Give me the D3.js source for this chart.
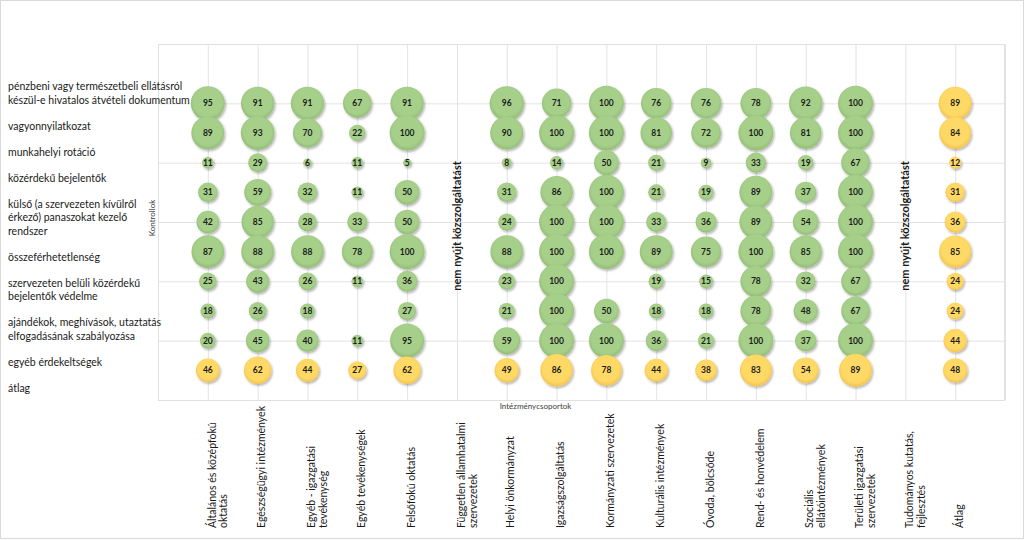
<!DOCTYPE html>
<html>
<head>
<meta charset="utf-8">
<script src="https://cdn.jsdelivr.net/npm/d3@7"></script>
<style>
  html, body { margin: 0; padding: 0; background: #ffffff; }
  svg { display: block; font-family: Lato, "Open Sans", sans-serif; }
</style>
</head>
<body>
<svg id="chart" width="1024" height="540"></svg>
<script>
// ---- data ----
const categories = [
  ["Általános és középfokú", "oktatás"],
  ["Egészségügyi intézmények"],
  ["Egyéb - igazgatási", "tevékenység"],
  ["Egyéb tevékenységek"],
  ["Felsőfokú oktatás"],
  ["Független államhatalmi", "szervezetek"],
  ["Helyi önkormányzat"],
  ["Igazságszolgáltatás"],
  ["Kormányzati szervezetek"],
  ["Kulturális intézmények"],
  ["Óvoda,  bölcsőde"],
  ["Rend- és honvédelem"],
  ["Szociális", "ellátóintézmények"],
  ["Területi igazgatási", "szervezetek"],
  ["Tudományos kutatás,", "fejlesztés"],
  ["Átlag"]
];

const controls = [
  ["pénzbeni vagy természetbeli ellátásról", "készül-e hivatalos  átvételi dokumentum"],
  ["vagyonnyilatkozat"],
  ["munkahelyi rotáció"],
  ["közérdekű bejelentők"],
  ["külső (a szervezeten kívülről", "érkező) panaszokat kezelő", "rendszer"],
  ["összeférhetetlenség"],
  ["szervezeten belüli közérdekű", "bejelentők védelme"],
  ["ajándékok, meghívások, utaztatás", "elfogadásának szabályozása"],
  ["egyéb érdekeltségek"],
  ["átlag"]
];

// values per category (column), top row to bottom row; null = no bubble
const valAltalanos   = [95, 89, 11, 31, 42, 87, 25, 18, 20, 46];
const valEgeszseg    = [91, 93, 29, 59, 85, 88, 43, 26, 45, 62];
const valEgyebIgazg  = [91, 70, 6, 32, 28, 88, 26, 18, 40, 44];
const valEgyebTev    = [67, 22, 11, 11, 33, 78, 11, null, 11, 27];
const valFelsofoku   = [91, 100, 5, 50, 50, 100, 36, 27, 95, 62];
const valFuggetlen   = [null, null, null, null, null, null, null, null, null, null];
const valHelyi       = [96, 90, 8, 31, 24, 88, 23, 21, 59, 49];
const valIgazsag     = [71, 100, 14, 86, 100, 100, 100, 100, 100, 86];
const valKormanyzati = [100, 100, 50, 100, 100, 100, null, 50, 100, 78];
const valKulturalis  = [76, 81, 21, 21, 33, 89, 19, 18, 36, 44];
const valOvoda       = [76, 72, 9, 19, 36, 75, 15, 18, 21, 38];
const valRend        = [78, 100, 33, 89, 89, 100, 78, 78, 100, 83];
const valSzocialis   = [92, 81, 19, 37, 54, 85, 32, 48, 37, 54];
const valTeruleti    = [100, 100, 67, 100, 100, 100, 67, 67, 100, 89];
const valTudomanyos  = [null, null, null, null, null, null, null, null, null, null];
const valAtlag       = [89, 84, 12, 31, 36, 85, 24, 24, 44, 48];

const columnValues = [valAltalanos, valEgeszseg, valEgyebIgazg, valEgyebTev, valFelsofoku,
  valFuggetlen, valHelyi, valIgazsag, valKormanyzati, valKulturalis, valOvoda, valRend,
  valSzocialis, valTeruleti, valTudomanyos, valAtlag];

const noServiceNote = "nem nyújt közszolgáltatást";
const noServiceColumns = [5, 14];
const xTitle = "Intézménycsoportok";
const yTitle = "Kontrollok";

// ---- layout ----
const svg = d3.select("#chart");
const W = 1024, H = 540;
const plot = { left: 158, right: 1005, top: 44, bottom: 400 };

const x = d3.scaleLinear().domain([0, categories.length + 1]).range([plot.left, plot.right]);
const y = d3.scaleLinear().domain([0, 12]).range([plot.bottom, plot.top]);
const r = d3.scaleSqrt().domain([0, 100]).range([0, 17.5]);

// outer frame
svg.append("rect").attr("x", 0.5).attr("y", 0.5).attr("width", W - 1).attr("height", H - 2)
  .attr("fill", "none").attr("stroke", "#d9d9d9");

// defs
const defs = svg.append("defs");
const shadow = defs.append("filter").attr("id", "shadow")
  .attr("x", "-30%").attr("y", "-30%").attr("width", "170%").attr("height", "170%");
shadow.append("feDropShadow").attr("dx", 1.2).attr("dy", 1.6).attr("stdDeviation", 1.2)
  .attr("flood-color", "#000").attr("flood-opacity", 0.3);

function grad(id, c0, c1) {
  const g = defs.append("radialGradient").attr("id", id)
    .attr("cx", "50%").attr("cy", "45%").attr("r", "55%");
  g.append("stop").attr("offset", "0%").attr("stop-color", c0);
  g.append("stop").attr("offset", "75%").attr("stop-color", c0);
  g.append("stop").attr("offset", "100%").attr("stop-color", c1);
}
grad("gGreen", "#a6cf8a", "#93bd76");
grad("gYellow", "#ffd966", "#f3c24c");

// gridlines via axes
const gx = svg.append("g").attr("transform", `translate(0,${plot.bottom})`)
  .call(d3.axisBottom(x).ticks(17).tickSize(-(plot.bottom - plot.top)).tickFormat(""));
const gy = svg.append("g").attr("transform", `translate(${plot.left},0)`)
  .call(d3.axisLeft(y).tickValues([0, 2, 4, 6, 8, 10, 12]).tickSize(-(plot.right - plot.left)).tickFormat(""));
[gx, gy].forEach(g => {
  g.select(".domain").remove();
  g.selectAll(".tick line").attr("stroke", "#e3e3e3").attr("stroke-width", 1);
});
svg.append("rect").attr("x", plot.left + 0.5).attr("y", plot.top + 0.5)
  .attr("width", plot.right - plot.left - 1).attr("height", plot.bottom - plot.top)
  .attr("fill", "none").attr("stroke", "#e0e0e0");

// bubble data
const points = [];
columnValues.forEach((vals, ci) => {
  vals.forEach((v, ri) => {
    if (v == null) return;
    points.push({
      ci, ri, v,
      yellow: ri === controls.length - 1 || ci === categories.length - 1
    });
  });
});

const bubbles = svg.append("g");
bubbles.selectAll("circle").data(points).join("circle")
  .attr("cx", d => x(d.ci + 1))
  .attr("cy", d => y(controls.length - d.ri))
  .attr("r", d => r(d.v))
  .attr("fill", d => d.yellow ? "url(#gYellow)" : "url(#gGreen)")
  .attr("filter", "url(#shadow)");

svg.append("g").selectAll("text").data(points).join("text")
  .attr("x", d => x(d.ci + 1))
  .attr("y", d => y(controls.length - d.ri))
  .attr("dy", "0.35em")
  .attr("text-anchor", "middle")
  .attr("font-size", 8.5)
  .attr("font-weight", 700)
  .attr("fill", "#1c1c1c")
  .text(d => d.v);

// "nem nyújt közszolgáltatást" notes
svg.append("g").selectAll("text").data(noServiceColumns).join("text")
  .attr("transform", d => `translate(${x(d + 1)},${y(6) + 4}) rotate(-90)`)
  .attr("dy", "0.35em")
  .attr("text-anchor", "middle")
  .attr("font-size", 11)
  .attr("font-weight", 700)
  .attr("fill", "#1a1a1a")
  .text(noServiceNote);

// y (control) labels - text block on the left
const lineH = 13.5, gapH = 26;
let cy = 86.7;
const yLab = svg.append("g").attr("font-size", 10.5).attr("fill", "#1a1a1a");
controls.forEach((lines, i) => {
  lines.forEach((ln, j) => {
    yLab.append("text").attr("x", 8).attr("y", cy + j * lineH).attr("dy", "0.35em").text(ln);
  });
  cy += (lines.length - 1) * lineH + gapH;
});

// category labels (rotated)
const cLab = svg.append("g").attr("font-size", 10.5).attr("fill", "#1a1a1a");
categories.forEach((lines, i) => {
  const t = cLab.append("text")
    .attr("transform", `translate(${x(i + 1) + 4},528) rotate(-90)`)
    .attr("text-anchor", "start");
  lines.forEach((ln, j) => {
    t.append("tspan").attr("x", 0).attr("y", j * 12).attr("dy", "0.35em").text(ln);
  });
});

// axis titles
svg.append("text").attr("x", (plot.left + plot.right) / 2 - 46).attr("y", 406)
  .attr("dy", "0.35em").attr("text-anchor", "middle").attr("font-size", 8)
  .attr("fill", "#404040").text(xTitle);
svg.append("text").attr("transform", `translate(152,218) rotate(-90)`)
  .attr("dy", "0.35em").attr("text-anchor", "middle").attr("font-size", 8)
  .attr("fill", "#404040").text(yTitle);
</script>
</body>
</html>
